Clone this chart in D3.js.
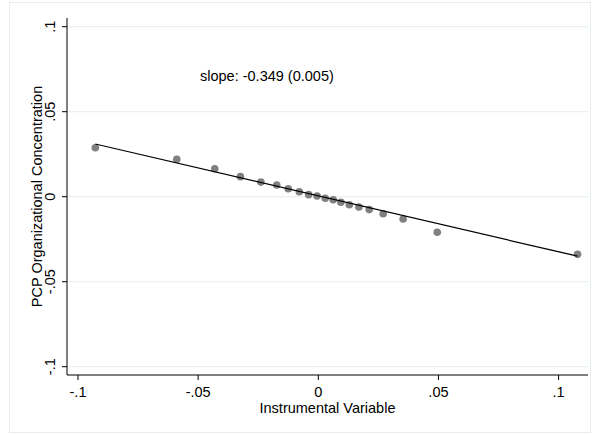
<!DOCTYPE html>
<html>
<head>
<meta charset="utf-8">
<script src="https://cdn.jsdelivr.net/npm/d3@7"></script>
<style>
  body { margin: 0; background: #fff; }
  svg { display: block; font-family: "Liberation Sans", Arial, sans-serif; }
</style>
</head>
<body>
<svg id="chart" width="592" height="434"></svg>
<script>
// Binned scatter points
const binX = [-0.0928, -0.0589, -0.0431, -0.0324, -0.0239, -0.0173, -0.0125, -0.0079, -0.0040, -0.0005,
  0.0029, 0.0062, 0.0094, 0.0129, 0.0169, 0.0212, 0.0270, 0.0353, 0.0495, 0.1079];
const binY = [0.0288, 0.0220, 0.0164, 0.0118, 0.0086, 0.0069, 0.0047, 0.0029, 0.0012, 0.0004,
  -0.0009, -0.0018, -0.0033, -0.0047, -0.0061, -0.0076, -0.0100, -0.0131, -0.0209, -0.0339];

// Fitted line end points
const fitX = [-0.0928, 0.1079];
const fitY = [0.0310, -0.0350];

// Ticks
const xTicks = [-0.1, -0.05, 0, 0.05, 0.1];
const yTicks = [-0.1, -0.05, 0, 0.05, 0.1];
const tickLabel = (v) => v === 0 ? "0" : String(v).replace("0.", ".");

const slopeText = "slope: -0.349 (0.005)";
const xTitle = "Instrumental Variable";
const yTitle = "PCP Organizational Concentration";

const FS = 14.5;
const svg = d3.select("#chart");

// Layout
const plot = { left: 67, right: 588, top: 18, bottom: 375 };

const x = d3.scaleLinear().domain([-0.1, 0.1]).range([78, 558.6]);
const y = d3.scaleLinear().domain([-0.1, 0.1]).range([366.7, 26.7]);

// Outer graph region border
svg.append("rect")
  .attr("x", 9.5).attr("y", 2.5)
  .attr("width", 581).attr("height", 430)
  .attr("fill", "none")
  .attr("stroke", "#e6eef0")
  .attr("stroke-width", 1);

// Horizontal gridlines
svg.append("g")
  .selectAll("line")
  .data(yTicks)
  .join("line")
  .attr("x1", plot.left).attr("x2", plot.right)
  .attr("y1", (d) => y(d)).attr("y2", (d) => y(d))
  .attr("stroke", "#e4eef0")
  .attr("stroke-width", 1);

// Y axis
const yAxis = svg.append("g").attr("transform", `translate(${plot.left},0)`);
yAxis.append("line")
  .attr("y1", plot.top).attr("y2", plot.bottom)
  .attr("stroke", "#000");
yAxis.selectAll("line.tick")
  .data(yTicks)
  .join("line")
  .attr("class", "tick")
  .attr("x1", -5).attr("x2", 0)
  .attr("y1", (d) => y(d)).attr("y2", (d) => y(d))
  .attr("stroke", "#000");
yAxis.selectAll("text")
  .data(yTicks)
  .join("text")
  .attr("transform", (d) => `translate(-12,${y(d)}) rotate(-90)`)
  .attr("text-anchor", "middle")
  .attr("font-size", FS)
  .attr("fill", "#000")
  .text(tickLabel);

// X axis
const xAxis = svg.append("g").attr("transform", `translate(0,${plot.bottom})`);
xAxis.append("line")
  .attr("x1", plot.left).attr("x2", plot.right)
  .attr("stroke", "#000");
xAxis.selectAll("line.tick")
  .data(xTicks)
  .join("line")
  .attr("class", "tick")
  .attr("x1", (d) => x(d)).attr("x2", (d) => x(d))
  .attr("y1", 0).attr("y2", 5)
  .attr("stroke", "#000");
xAxis.selectAll("text")
  .data(xTicks)
  .join("text")
  .attr("x", (d) => x(d))
  .attr("y", 22)
  .attr("text-anchor", "middle")
  .attr("font-size", FS)
  .attr("fill", "#000")
  .text(tickLabel);

// Axis titles
svg.append("text")
  .attr("x", (plot.left + plot.right) / 2)
  .attr("y", 413)
  .attr("text-anchor", "middle")
  .attr("font-size", FS)
  .text(xTitle);

svg.append("text")
  .attr("transform", `translate(42,${(plot.top + plot.bottom) / 2}) rotate(-90)`)
  .attr("text-anchor", "middle")
  .attr("font-size", FS)
  .text(yTitle);

// Scatter points
const pts = d3.zip(binX, binY);
svg.append("g")
  .selectAll("circle")
  .data(pts)
  .join("circle")
  .attr("cx", (d) => x(d[0]))
  .attr("cy", (d) => y(d[1]))
  .attr("r", 3.8)
  .attr("fill", "#808080");

// Fitted line
svg.append("path")
  .datum(d3.zip(fitX, fitY))
  .attr("d", d3.line().x((d) => x(d[0])).y((d) => y(d[1])))
  .attr("fill", "none")
  .attr("stroke", "#000")
  .attr("stroke-width", 1.2);

// Slope annotation
svg.append("text")
  .attr("x", 200)
  .attr("y", 81)
  .attr("font-size", FS)
  .text(slopeText);
</script>
</body>
</html>
